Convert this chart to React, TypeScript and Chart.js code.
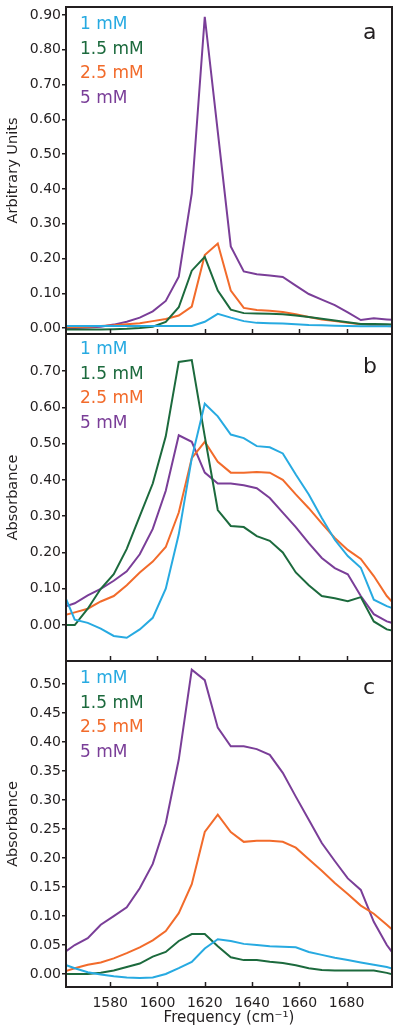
import React, { useEffect, useRef } from 'react';
import { Chart, registerables } from 'chart.js';

Chart.register(...registerables);

const FONT = '"DejaVu Sans", "Liberation Sans", sans-serif';
const INK = '#231f20';

// Frequency grid (cm-1)
const freq = [1559.5, 1565, 1570.5, 1576, 1581.5, 1587, 1592.5, 1598, 1603.5, 1609, 1614.5, 1620, 1625.5, 1631, 1636.5, 1642, 1647.5, 1653, 1658.5, 1664, 1669.5, 1675, 1680.5, 1686, 1691.5, 1697, 1702.5];

const concLabels = ['1 mM', '1.5 mM', '2.5 mM', '5 mM'];
const concColors = ['#27aae1', '#1c6a3d', '#f26b2b', '#7a3e98'];

const xTicks = [1580, 1600, 1620, 1640, 1660, 1680];
const yTicksA = [0, 0.1, 0.2, 0.3, 0.4, 0.5, 0.6, 0.7, 0.8, 0.9];
const yTicksB = [0, 0.1, 0.2, 0.3, 0.4, 0.5, 0.6, 0.7];
const yTicksC = [0, 0.05, 0.1, 0.15, 0.2, 0.25, 0.3, 0.35, 0.4, 0.45, 0.5];

const panelLetters = ['a', 'b', 'c'];
const yTitles = ['Arbitrary Units', 'Absorbance', 'Absorbance'];
const xTitle = 'Frequency (cm\u207B\u00B9)';

// Panel a
const a1 = [0.006, 0.006, 0.006, 0.006, 0.006, 0.006, 0.006, 0.006, 0.006, 0.006, 0.006, 0.018, 0.041, 0.03, 0.02, 0.015, 0.014, 0.013, 0.011, 0.009, 0.008, 0.007, 0.006, 0.005, 0.005, 0.005, 0.005];
const a15 = [-0.004, -0.004, -0.004, -0.004, -0.003, -0.002, 0.0, 0.004, 0.018, 0.06, 0.165, 0.205, 0.108, 0.053, 0.043, 0.042, 0.041, 0.04, 0.036, 0.032, 0.027, 0.022, 0.017, 0.012, 0.012, 0.011, 0.01];
const a25 = [0.003, 0.003, 0.004, 0.006, 0.008, 0.011, 0.014, 0.02, 0.026, 0.036, 0.062, 0.21, 0.243, 0.108, 0.058, 0.052, 0.05, 0.046, 0.04, 0.032, 0.025, 0.02, 0.015, 0.011, 0.008, 0.006, 0.005];
const a5 = [0.0, 0.0, 0.002, 0.004, 0.01, 0.018, 0.03, 0.048, 0.078, 0.148, 0.387, 0.895, 0.565, 0.235, 0.163, 0.155, 0.151, 0.147, 0.122, 0.098, 0.082, 0.066, 0.045, 0.023, 0.028, 0.025, 0.022];

// Panel b
const b1 = [0.1, 0.015, 0.006, -0.01, -0.03, -0.035, -0.012, 0.02, 0.1, 0.25, 0.46, 0.61, 0.575, 0.525, 0.515, 0.493, 0.49, 0.473, 0.415, 0.36, 0.295, 0.235, 0.19, 0.158, 0.07, 0.052, 0.04];
const b15 = [0.0, 0.0, 0.045, 0.1, 0.14, 0.21, 0.3, 0.39, 0.52, 0.725, 0.73, 0.52, 0.317, 0.273, 0.27, 0.245, 0.232, 0.2, 0.145, 0.11, 0.08, 0.074, 0.066, 0.077, 0.01, -0.012, -0.02];
const b25 = [0.025, 0.035, 0.045, 0.065, 0.08, 0.11, 0.145, 0.175, 0.215, 0.31, 0.46, 0.505, 0.45, 0.42, 0.42, 0.422, 0.42, 0.4, 0.36, 0.322, 0.28, 0.24, 0.207, 0.182, 0.135, 0.08, 0.04];
const b5 = [0.048, 0.06, 0.082, 0.1, 0.122, 0.148, 0.195, 0.265, 0.37, 0.523, 0.505, 0.42, 0.39, 0.39, 0.385, 0.377, 0.35, 0.31, 0.27, 0.226, 0.185, 0.157, 0.14, 0.08, 0.03, 0.01, 0.0];

// Panel c
const c1 = [0.018, 0.01, 0.003, -0.001, -0.004, -0.006, -0.007, -0.006, 0.0, 0.01, 0.021, 0.044, 0.06, 0.057, 0.052, 0.05, 0.048, 0.047, 0.046, 0.038, 0.033, 0.028, 0.024, 0.02, 0.016, 0.012, 0.006];
const c15 = [0.0, 0.0, 0.0, 0.002, 0.006, 0.012, 0.018, 0.03, 0.038, 0.057, 0.069, 0.069, 0.048, 0.029, 0.024, 0.024, 0.021, 0.019, 0.015, 0.01, 0.007, 0.006, 0.006, 0.006, 0.006, 0.002, -0.004];
const c25 = [0.003, 0.01, 0.016, 0.02, 0.027, 0.036, 0.046, 0.058, 0.074, 0.105, 0.155, 0.245, 0.275, 0.245, 0.228, 0.23, 0.23, 0.228, 0.218, 0.198, 0.178, 0.157, 0.138, 0.118, 0.104, 0.085, 0.065];
const c5 = [0.034, 0.05, 0.062, 0.085, 0.1, 0.115, 0.148, 0.19, 0.26, 0.37, 0.525, 0.507, 0.425, 0.393, 0.393, 0.388, 0.378, 0.347, 0.306, 0.266, 0.226, 0.195, 0.165, 0.145, 0.09, 0.05, 0.02];

const X_MIN = 1561.3;
const X_MAX = 1699.2;

type PanelProps = {
  top: number;
  height: number;
  padTop: number;
  xHeight: number;
  series: number[][];
  yMin: number;
  yMax: number;
  yTicks: number[];
  yTitle: string;
  letter: string;
  letterY: number;
  legendY: number;
  showX: boolean;
};

function Panel(p: PanelProps) {
  const ref = useRef<HTMLCanvasElement>(null);
  useEffect(() => {
    const decor = {
      id: 'decor',
      afterDatasetsDraw(chart: any) {
        const ctx = chart.ctx;
        const ca = chart.chartArea;
        ctx.save();
        ctx.strokeStyle = INK;
        ctx.lineWidth = 2;
        ctx.strokeRect(ca.left, ca.top, ca.right - ca.left, ca.bottom - ca.top);
        // inward x ticks
        const xs = chart.scales.x;
        ctx.lineWidth = 1.5;
        xs.ticks.forEach((t: any) => {
          const px = Math.round(xs.getPixelForValue(t.value)) + 0.5;
          ctx.beginPath();
          ctx.moveTo(px, ca.bottom);
          ctx.lineTo(px, ca.bottom - 5);
          ctx.stroke();
        });
        // legend text
        ctx.font = '17px ' + FONT;
        ctx.textAlign = 'left';
        ctx.textBaseline = 'middle';
        chart.data.datasets.forEach((ds: any, i: number) => {
          ctx.fillStyle = ds.borderColor;
          ctx.fillText(ds.label, 80, p.legendY + i * 24.4);
        });
        // panel letter
        ctx.fillStyle = INK;
        ctx.font = '22px ' + FONT;
        ctx.textBaseline = 'alphabetic';
        ctx.fillText(p.letter, 363, p.letterY);
        ctx.restore();
      },
    };

    const chart = new Chart(ref.current as HTMLCanvasElement, {
      type: 'line',
      data: {
        datasets: p.series.map((s, i) => ({
          label: concLabels[i],
          data: freq.map((f, j) => ({ x: f, y: s[j] })),
          borderColor: concColors[i],
          backgroundColor: concColors[i],
          borderWidth: 2,
          pointRadius: 0,
          tension: 0,
          fill: false,
        })),
      },
      options: {
        animation: false,
        responsive: false,
        maintainAspectRatio: false,
        devicePixelRatio: 1,
        layout: { padding: { top: p.padTop, right: 8, left: 0, bottom: 0 } },
        plugins: {
          legend: { display: false },
          tooltip: { enabled: false },
        },
        scales: {
          x: {
            type: 'linear',
            min: X_MIN,
            max: X_MAX,
            afterBuildTicks: (s: any) => {
              s.ticks = xTicks.map((v) => ({ value: v }));
            },
            ticks: {
              display: p.showX,
              padding: 8,
              color: INK,
              font: { family: FONT, size: 14 },
              autoSkip: false,
              maxRotation: 0,
              callback: (v: any) => String(v),
            },
            grid: { display: false, drawTicks: false },
            border: { display: false },
            title: {
              display: p.showX,
              text: xTitle,
              color: INK,
              font: { family: FONT, size: 15 },
              padding: { top: 9, bottom: 9 },
            },
            afterFit: (s: any) => {
              s.height = p.xHeight;
              s.paddingLeft = 0;
              s.paddingRight = 0;
            },
          },
          y: {
            type: 'linear',
            min: p.yMin,
            max: p.yMax,
            afterBuildTicks: (s: any) => {
              s.ticks = p.yTicks.map((v) => ({ value: v }));
            },
            ticks: {
              padding: 1,
              color: INK,
              font: { family: FONT, size: 14 },
              autoSkip: false,
              includeBounds: false,
              callback: (v: any) => Number(v).toFixed(2),
            },
            grid: {
              display: true,
              drawOnChartArea: false,
              drawTicks: true,
              tickLength: 4,
              color: INK,
              lineWidth: 1.5,
            },
            border: { display: false },
            title: {
              display: true,
              text: p.yTitle,
              color: INK,
              font: { family: FONT, size: 14.5 },
              padding: { top: 5, bottom: 5 },
            },
            afterFit: (s: any) => {
              s.width = 66;
              s.paddingTop = 0;
              s.paddingBottom = 0;
            },
          },
        },
      } as any,
      plugins: [decor],
    });
    return () => chart.destroy();
  }, []);
  return (
    <canvas
      ref={ref}
      width={400}
      height={p.height}
      style={{ position: 'absolute', left: 0, top: p.top, width: 400, height: p.height }}
    />
  );
}

export default function App() {
  return (
    <div style={{ position: 'absolute', left: 0, top: 0, width: 400, height: 1036, background: '#ffffff', overflow: 'hidden' }}>
      <Panel
        top={0}
        height={340}
        padTop={7}
        xHeight={6}
        series={[a1, a15, a25, a5]}
        yMin={-0.017}
        yMax={0.923}
        yTicks={yTicksA}
        yTitle={yTitles[0]}
        letter={panelLetters[0]}
        letterY={39}
        legendY={25}
        showX={false}
      />
      <Panel
        top={328}
        height={340}
        padTop={6}
        xHeight={7}
        series={[b1, b15, b25, b5]}
        yMin={-0.099}
        yMax={0.802}
        yTicks={yTicksB}
        yTitle={yTitles[1]}
        letter={panelLetters[1]}
        letterY={45}
        legendY={22}
        showX={false}
      />
      <Panel
        top={655}
        height={381}
        padTop={6}
        xHeight={49}
        series={[c1, c15, c25, c5]}
        yMin={-0.0224}
        yMax={0.54}
        yTicks={yTicksC}
        yTitle={yTitles[2]}
        letter={panelLetters[2]}
        letterY={39}
        legendY={24}
        showX={true}
      />
    </div>
  );
}
